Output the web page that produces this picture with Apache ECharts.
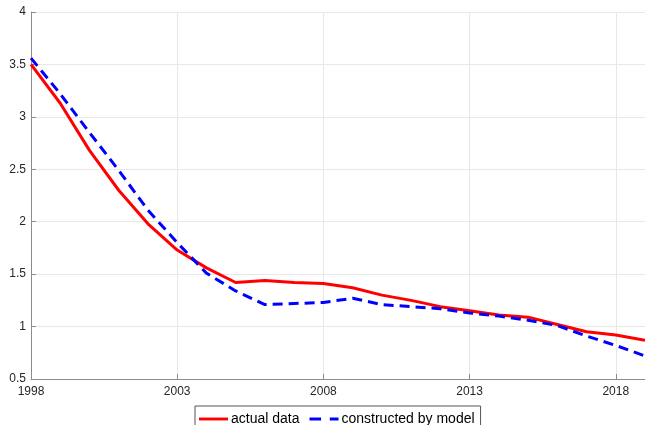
<!DOCTYPE html>
<html>
<head>
<meta charset="utf-8">
<script src="https://cdn.jsdelivr.net/npm/echarts@6/dist/echarts.min.js"></script>
<style>html,body{margin:0;padding:0;background:#fff}#c{width:645px;height:425px}</style>
</head>
<body>
<div id="c"></div>
<script>
var years = ['1998','1999','2000','2001','2002','2003','2004','2005','2006','2007','2008','2009','2010','2011','2012','2013','2014','2015','2016','2017','2018','2019'];
var actualData = [3.50,3.13,2.68,2.30,1.98,1.73,1.56,1.42,1.44,1.42,1.41,1.37,1.30,1.25,1.19,1.15,1.11,1.09,1.02,0.95,0.92,0.87];
var modelData = [3.56,3.22,2.85,2.49,2.11,1.80,1.51,1.34,1.21,1.22,1.23,1.27,1.21,1.19,1.17,1.13,1.10,1.06,1.01,0.91,0.82,0.72];
var yTicks = {min:0.5, max:4, step:0.5};

var chart = echarts.init(document.getElementById('c'), null, {renderer:'canvas'});
var font = 'Liberation Sans, Arial, Helvetica, sans-serif';
chart.setOption({
  animation:false,
  backgroundColor:'#fff',
  grid:{left:31, right:-3, top:12, bottom:46, containLabel:false},
  xAxis:{
    type:'category', data:years, boundaryGap:false,
    axisLine:{show:true, lineStyle:{color:'#8c8c8c', width:1}},
    axisTick:{show:true, inside:true, length:5, interval:4, lineStyle:{color:'#8c8c8c'}},
    axisLabel:{interval:4, color:'#262626', fontSize:12, fontFamily:font, margin:7},
    splitLine:{show:true, interval:4, lineStyle:{color:'#e8e8e8', width:1}}
  },
  yAxis:{
    type:'value', min:yTicks.min, max:yTicks.max, interval:yTicks.step,
    axisLine:{show:true, lineStyle:{color:'#8c8c8c', width:1}},
    axisTick:{show:true, inside:true, length:5, lineStyle:{color:'#8c8c8c'}},
    axisLabel:{color:'#262626', fontSize:12, fontFamily:font, margin:5},
    splitLine:{show:true, lineStyle:{color:'#e8e8e8', width:1}}
  },
  legend:{
    left:195, top:406, orient:'horizontal',
    borderColor:'#555', borderWidth:1, backgroundColor:'#fff',
    padding:[6,6,6,4], itemGap:10, itemWidth:29, itemHeight:3,
    textStyle:{fontSize:14, fontFamily:font, color:'#000', padding:[0,0,0,-2]},
    data:[
      {name:'actual data', icon:'path://M0,0H30V3H0Z', itemStyle:{color:'#ff0000'}},
      {name:'constructed by model', icon:'path://M0,0H12V3H0Z M21,0H30V3H21Z', itemStyle:{color:'#0000ff'}}
    ]
  },
  series:[
    {name:'actual data', type:'line', data:actualData, symbol:'none', smooth:false,
     lineStyle:{color:'#ff0000', width:3}, itemStyle:{color:'#ff0000'}},
    {name:'constructed by model', type:'line', data:modelData, symbol:'none', smooth:false,
     lineStyle:{color:'#0000ff', width:3, type:[10,6]}, itemStyle:{color:'#0000ff'}}
  ]
});
</script>
</body>
</html>
